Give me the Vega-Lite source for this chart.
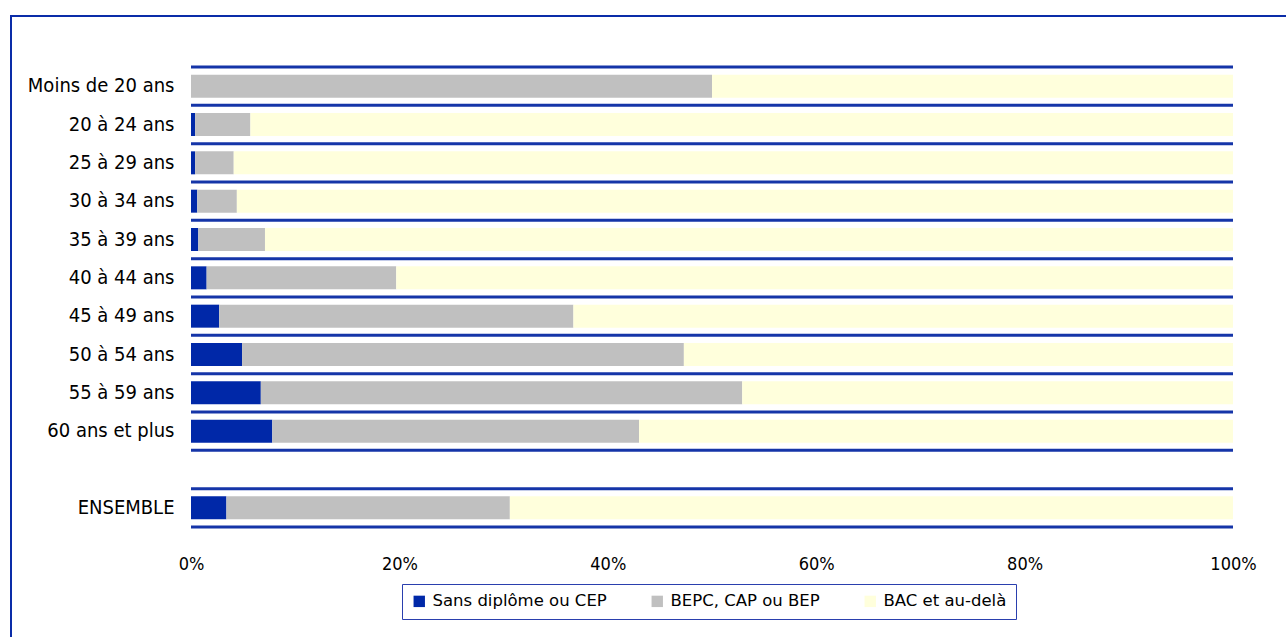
{
  "$schema": "https://vega.github.io/schema/vega-lite/v6.json",
  "width": 1275,
  "height": 621,
  "autosize": "none",
  "padding": {"left": 11, "top": 16, "right": 0, "bottom": 0},
  "background": "white",
  "config": {
    "view": {"stroke": "#0a2ca8", "strokeWidth": 2, "strokeDash": [1275, 1896, 621, 10]},
    "font": "DejaVu Sans Condensed"
  },
  "data": {"values": [
    {"age": "Moins de 20 ans", "niveau": "Sans diplôme ou CEP", "part": 0},
    {"age": "Moins de 20 ans", "niveau": "BEPC, CAP ou BEP", "part": 50.0},
    {"age": "Moins de 20 ans", "niveau": "BAC et au-delà", "part": 50.0},
    {"age": "20 à 24 ans", "niveau": "Sans diplôme ou CEP", "part": 0.4},
    {"age": "20 à 24 ans", "niveau": "BEPC, CAP ou BEP", "part": 5.3},
    {"age": "20 à 24 ans", "niveau": "BAC et au-delà", "part": 94.3},
    {"age": "25 à 29 ans", "niveau": "Sans diplôme ou CEP", "part": 0.4},
    {"age": "25 à 29 ans", "niveau": "BEPC, CAP ou BEP", "part": 3.7},
    {"age": "25 à 29 ans", "niveau": "BAC et au-delà", "part": 95.9},
    {"age": "30 à 34 ans", "niveau": "Sans diplôme ou CEP", "part": 0.6},
    {"age": "30 à 34 ans", "niveau": "BEPC, CAP ou BEP", "part": 3.8},
    {"age": "30 à 34 ans", "niveau": "BAC et au-delà", "part": 95.6},
    {"age": "35 à 39 ans", "niveau": "Sans diplôme ou CEP", "part": 0.7},
    {"age": "35 à 39 ans", "niveau": "BEPC, CAP ou BEP", "part": 6.4},
    {"age": "35 à 39 ans", "niveau": "BAC et au-delà", "part": 92.9},
    {"age": "40 à 44 ans", "niveau": "Sans diplôme ou CEP", "part": 1.5},
    {"age": "40 à 44 ans", "niveau": "BEPC, CAP ou BEP", "part": 18.2},
    {"age": "40 à 44 ans", "niveau": "BAC et au-delà", "part": 80.3},
    {"age": "45 à 49 ans", "niveau": "Sans diplôme ou CEP", "part": 2.7},
    {"age": "45 à 49 ans", "niveau": "BEPC, CAP ou BEP", "part": 34.0},
    {"age": "45 à 49 ans", "niveau": "BAC et au-delà", "part": 63.3},
    {"age": "50 à 54 ans", "niveau": "Sans diplôme ou CEP", "part": 4.9},
    {"age": "50 à 54 ans", "niveau": "BEPC, CAP ou BEP", "part": 42.4},
    {"age": "50 à 54 ans", "niveau": "BAC et au-delà", "part": 52.7},
    {"age": "55 à 59 ans", "niveau": "Sans diplôme ou CEP", "part": 6.7},
    {"age": "55 à 59 ans", "niveau": "BEPC, CAP ou BEP", "part": 46.2},
    {"age": "55 à 59 ans", "niveau": "BAC et au-delà", "part": 47.1},
    {"age": "60 ans et plus", "niveau": "Sans diplôme ou CEP", "part": 7.8},
    {"age": "60 ans et plus", "niveau": "BEPC, CAP ou BEP", "part": 35.2},
    {"age": "60 ans et plus", "niveau": "BAC et au-delà", "part": 57.0},
    {"age": "ENSEMBLE", "niveau": "Sans diplôme ou CEP", "part": 3.4},
    {"age": "ENSEMBLE", "niveau": "BEPC, CAP ou BEP", "part": 27.2},
    {"age": "ENSEMBLE", "niveau": "BAC et au-delà", "part": 69.4}
  ]},
  "layer": [
    {
      "mark": {"type": "bar", "size": 23},
      "encoding": {
        "y": {
          "field": "age", "type": "nominal", "sort": null,
          "scale": {"domain": ["Moins de 20 ans", "20 à 24 ans", "25 à 29 ans", "30 à 34 ans", "35 à 39 ans", "40 à 44 ans", "45 à 49 ans", "50 à 54 ans", "55 à 59 ans", "60 ans et plus", " ", "ENSEMBLE"], "range": [51, 511], "paddingInner": 0, "paddingOuter": 0},
          "axis": {"title": null, "grid": false, "ticks": false, "domain": false, "offset": -180, "labelFontSize": 20, "labelColor": "#000000", "labelPadding": 17, "labelFont": "DejaVu Sans Condensed"}
        },
        "x": {
          "field": "part", "type": "quantitative", "stack": true,
          "scale": {"domain": [0, 100], "range": [180, 1222], "nice": false},
          "axis": {"title": null, "grid": false, "values": [0, 20, 40, 60, 80, 100], "labelExpr": "datum.value + '%'", "ticks": false, "domain": false, "offset": -110, "labelFontSize": 18, "labelColor": "#000000", "labelPadding": 28, "labelFont": "DejaVu Sans Condensed", "labelFlush": false}
        },
        "color": {
          "field": "niveau", "type": "nominal",
          "scale": {"domain": ["Sans diplôme ou CEP", "BEPC, CAP ou BEP", "BAC et au-delà"], "range": ["#0028A8", "#C0C0C0", "#FFFFDC"]},
          "legend": {"title": null, "orient": "none", "legendX": 391, "legendY": 568, "direction": "horizontal", "strokeColor": "#2a3fae", "fillColor": "#ffffff", "padding": 9, "symbolType": "square", "symbolSize": 130, "symbolStrokeWidth": 0, "labelFontSize": 16.5, "labelColor": "#000000", "labelFont": "DejaVu Sans", "labelOffset": 5, "labelLimit": 0, "columnPadding": 42, "cornerRadius": 0}
        },
        "order": {"field": "niveau", "sort": "descending"}
      }
    },
    {
      "data": {"values": [
        {"age": "Moins de 20 ans"}, {"age": "20 à 24 ans"}, {"age": "25 à 29 ans"}, {"age": "30 à 34 ans"},
        {"age": "35 à 39 ans"}, {"age": "40 à 44 ans"}, {"age": "45 à 49 ans"}, {"age": "50 à 54 ans"},
        {"age": "55 à 59 ans"}, {"age": "60 ans et plus"}, {"age": " "}, {"age": "ENSEMBLE"}
      ]},
      "mark": {"type": "rule", "color": "#1535a8", "strokeWidth": 3},
      "encoding": {
        "y": {"field": "age", "type": "nominal", "sort": null, "bandPosition": 0},
        "x": {"datum": 0, "type": "quantitative"},
        "x2": {"datum": 100}
      }
    },
    {
      "data": {"values": [{"age": "ENSEMBLE"}]},
      "mark": {"type": "rule", "color": "#1535a8", "strokeWidth": 3},
      "encoding": {
        "y": {"field": "age", "type": "nominal", "sort": null, "bandPosition": 1},
        "x": {"datum": 0, "type": "quantitative"},
        "x2": {"datum": 100}
      }
    }
  ]
}
